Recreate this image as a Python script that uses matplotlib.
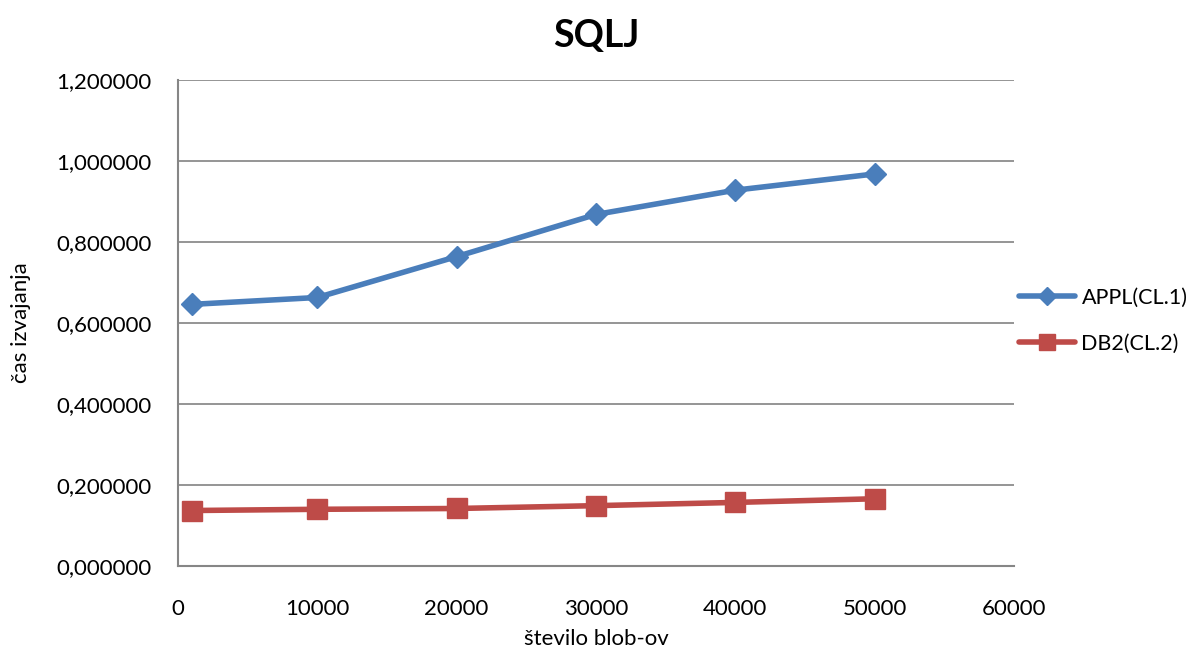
import matplotlib
matplotlib.use("Agg")
import matplotlib.pyplot as plt
from matplotlib.ticker import FuncFormatter

plt.rcParams['font.family'] = ['Lato', 'DejaVu Sans']

# Number of blobs
blobs = [1000, 10000, 20000, 30000, 40000, 50000]
# Execution time per client
appl_cl1 = [0.646, 0.663, 0.764, 0.868, 0.928, 0.968]
db2_cl2 = [0.137, 0.140, 0.142, 0.149, 0.157, 0.166]

series_names = ["APPL(CL.1)", "DB2(CL.2)"]

fig = plt.figure(figsize=(11.9, 6.5), dpi=100)
ax = fig.add_axes([178 / 1190, 1 - 566 / 650, (1014 - 178) / 1190, (566 - 80) / 650])

ax.plot(blobs, appl_cl1, color="#4a7ebb", lw=4, marker="D", ms=11,
        label=series_names[0], solid_capstyle="round")
ax.plot(blobs, db2_cl2, color="#be4b48", lw=4, marker="s", ms=14,
        label=series_names[1], solid_capstyle="round")

ax.set_xlim(0, 60000)
ax.set_ylim(0, 1.2)
ax.set_xticks(range(0, 60001, 10000))
ax.set_yticks([0, 0.2, 0.4, 0.6, 0.8, 1.0, 1.2])
ax.yaxis.set_major_formatter(FuncFormatter(lambda v, p: f"{v:.6f}".replace(".", ",")))
ax.grid(axis="y", color="#8c8c8c", lw=1.3)
ax.set_axisbelow(True)

for side in ("top", "right"):
    ax.spines[side].set_visible(False)
for side in ("left", "bottom"):
    ax.spines[side].set_color("#868686")
    ax.spines[side].set_linewidth(1.5)
ax.tick_params(axis="both", length=0, labelsize=16, colors="black")
ax.tick_params(axis="x", pad=24)
ax.tick_params(axis="y", pad=19)

ax.set_title("SQLJ", fontsize=27, fontweight="bold", pad=24)
ax.set_xlabel("število blob-ov", fontsize=16, labelpad=7)
ax.set_ylabel("čas izvajanja", fontsize=16, labelpad=18)

ax.legend(loc="center left", bbox_to_anchor=(1.006, 0.505), frameon=False,
          fontsize=15.5, handlelength=2.6, handletextpad=0.3, labelspacing=1.2,
          markerscale=0.8, borderaxespad=0, borderpad=0)

fig.savefig("out.png", dpi=100, facecolor="white")
